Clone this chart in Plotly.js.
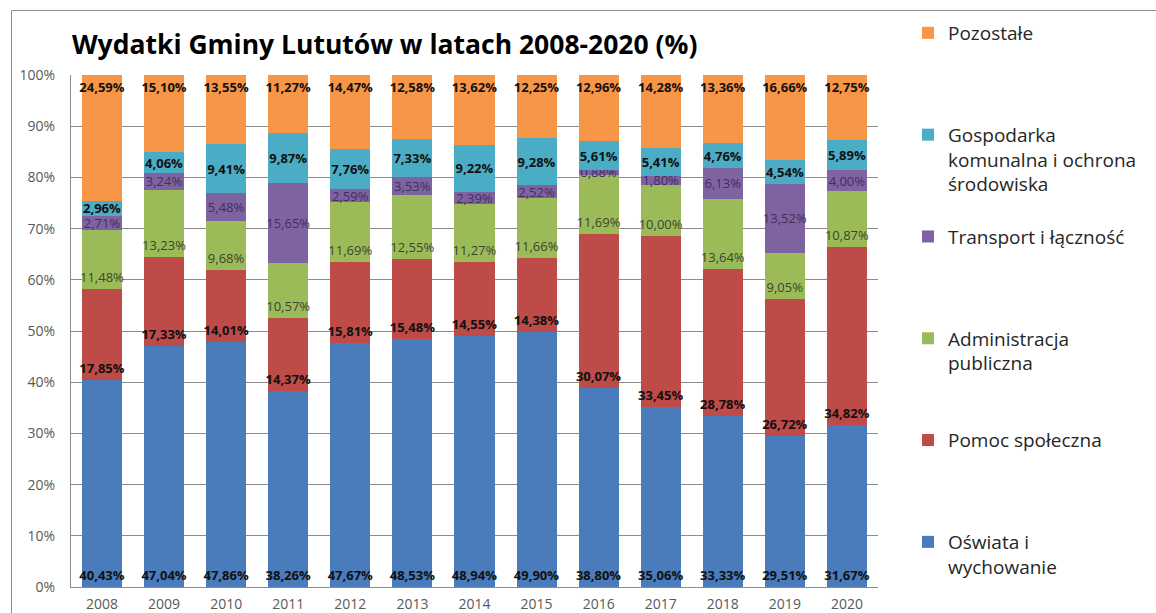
<!DOCTYPE html>
<html>
<head>
<meta charset="utf-8">
<script src="https://cdn.plot.ly/plotly-3.0.1.min.js"></script>
<style>
    body { margin: 0; background: #ffffff; }
    #chart { width: 1156px; height: 613px; }
</style>
</head>
<body>
<div id="chart"></div>
<script>
const years = ["2008", "2009", "2010", "2011", "2012", "2013", "2014", "2015", "2016", "2017", "2018", "2019", "2020"];

const oswiata = [40.43, 47.04, 47.86, 38.26, 47.67, 48.53, 48.94, 49.90, 38.80, 35.06, 33.33, 29.51, 31.67];
const pomoc = [17.85, 17.33, 14.01, 14.37, 15.81, 15.48, 14.55, 14.38, 30.07, 33.45, 28.78, 26.72, 34.82];
const administracja = [11.48, 13.23, 9.68, 10.57, 11.69, 12.55, 11.27, 11.66, 11.69, 10.00, 13.64, 9.05, 10.87];
const transport = [2.71, 3.24, 5.48, 15.65, 2.59, 3.53, 2.39, 2.52, 0.88, 1.80, 6.13, 13.52, 4.00];
const gospodarka = [2.96, 4.06, 9.41, 9.87, 7.76, 7.33, 9.22, 9.28, 5.61, 5.41, 4.76, 4.54, 5.89];
const pozostale = [24.59, 15.10, 13.55, 11.27, 14.47, 12.58, 13.62, 12.25, 12.96, 14.28, 13.36, 16.66, 12.75];

const yTicks = [0, 10, 20, 30, 40, 50, 60, 70, 80, 90, 100];
const yTickText = yTicks.map(function(v) { return v + "%"; });


function barTrace(name, values, color, anchor, textColor, bold, rank) {
    return {
        x: years,
        y: values,
        type: "bar",
        name: name,
        legendgroup: "g" + rank,
        legendrank: rank,
        marker: {color: color},
        texttemplate: "%{y:.2f}%",
        textposition: "inside",
        insidetextanchor: anchor,
        textangle: 0,
        insidetextfont: {
            family: "Open Sans",
            size: 13,
            color: textColor,
            weight: bold ? "bold" : "normal",
        },
        hoverinfo: "none",
    };
}


function WydatkiPlot(id) {
    // legend entries padded to four lines, so they sit evenly like in Excel
    let data = [
        barTrace("Oświata i<br>wychowanie", oswiata, "#4a7bbb", "start", "#111111", true, 6),
        barTrace("Pomoc społeczna<br> <br> <br> ", pomoc, "#be4b48", "start", "#111111", true, 5),
        barTrace("Administracja<br>publiczna<br> <br> ", administracja, "#9bbb59", "start", "#3c4430", false, 4),
        barTrace("Transport i łączność<br> <br> <br> ", transport, "#7f63a1", "middle", "#3e2f5c", false, 3),
        barTrace("Gospodarka<br>komunalna i ochrona<br>środowiska<br> ", gospodarka, "#4bacc6", "middle", "#111111", true, 2),
        barTrace("Pozostałe<br> <br> <br> ", pozostale, "#f79646", "end", "#111111", true, 1),
    ];

    const px = function(v) { return (v - 71) / 807; };
    const py = function(v) { return (587 - v) / 512; };

    let layout = {
        width: 1156,
        height: 613,
        barmode: "stack",
        bargap: 0.355,
        separators: ", ",
        paper_bgcolor: "#ffffff",
        plot_bgcolor: "#ffffff",
        font: {family: "Open Sans", color: "#595959", size: 14},
        margin: {l: 71, r: 278, t: 75, b: 26},
        uniformtext: {mode: "show", minsize: 13},
        title: {
            text: "Wydatki Gminy Lututów w latach 2008-2020 (%)",
            font: {family: "Open Sans", size: 26.5, color: "#000000", weight: "bold"},
            xref: "container",
            x: 72 / 1156,
            xanchor: "left",
            yref: "container",
            y: 1 - 45 / 613,
            yanchor: "middle",
        },
        xaxis: {
            type: "category",
            showgrid: false,
            showline: true,
            linecolor: "#8c8c8c",
            linewidth: 1,
            ticks: "",
            ticklabelstandoff: 4,
            tickfont: {size: 14, color: "#595959"},
            fixedrange: true,
        },
        yaxis: {
            range: [0, 100],
            tickmode: "array",
            tickvals: yTicks,
            ticktext: yTickText,
            showgrid: true,
            gridcolor: "#8c8c8c",
            gridwidth: 1,
            showline: true,
            linecolor: "#8c8c8c",
            linewidth: 1,
            zeroline: false,
            ticks: "",
            ticklabelstandoff: 12,
            tickfont: {size: 14, color: "#595959"},
            fixedrange: true,
        },
        legend: {
            traceorder: "grouped",
            tracegroupgap: 0,
            valign: "top",
            maxheight: 1,
            xref: "container",
            x: 908 / 1156,
            xanchor: "left",
            yref: "container",
            y: 1 - 14 / 613,
            yanchor: "top",
            font: {family: "Open Sans", size: 19, color: "#262626"},
            bgcolor: "rgba(0,0,0,0)",
        },
        shapes: [
            {type: "line", xref: "paper", yref: "paper", x0: px(11.5), x1: px(1170), y0: py(10.5), y1: py(10.5),
             line: {color: "#8c8c8c", width: 1}},
            {type: "line", xref: "paper", yref: "paper", x0: px(11.5), x1: px(11.5), y0: py(10.5), y1: py(630),
             line: {color: "#8c8c8c", width: 1}},
        ],
        showlegend: true,
    };

    let config = {displayModeBar: false, staticPlot: true};

    Plotly.newPlot(id, data, layout, config);
}


window.addEventListener('load', function () {
    WydatkiPlot("chart");
})
</script>
</body>
</html>
